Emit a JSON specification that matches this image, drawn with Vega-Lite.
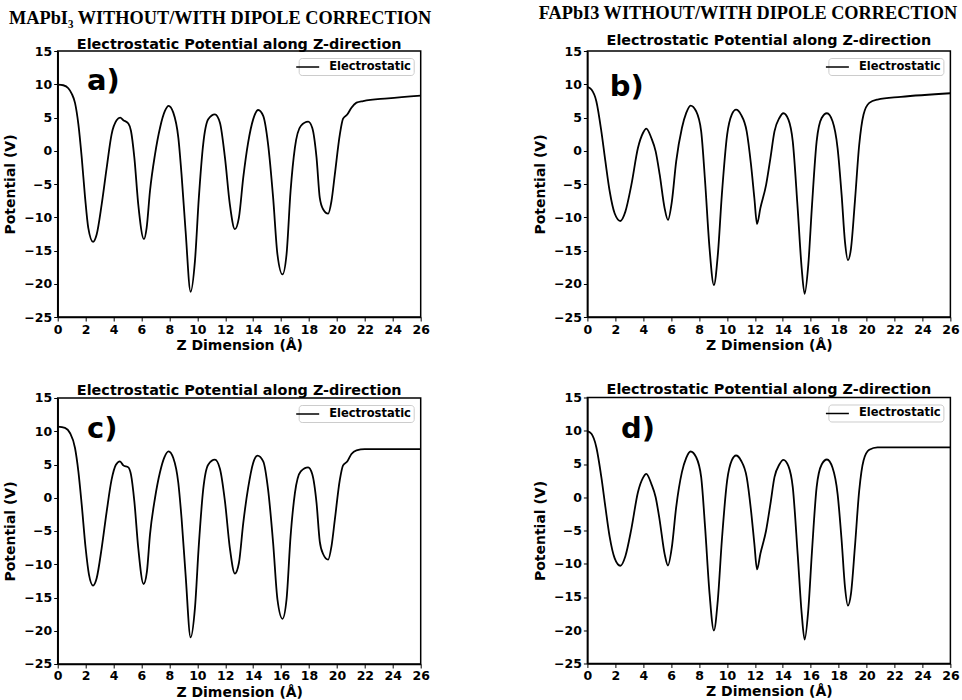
{
  "$schema": "https://vega.github.io/schema/vega-lite/v6.json",
  "background": "white",
  "padding": {"left": 2.7, "top": 3, "right": 2, "bottom": 1},
  "datasets": {
    "a": [
      {"z":0,"v":9.95},{"z":0.4,"v":9.85},{"z":0.76,"v":9.4},{"z":1.0,"v":8.6},{"z":1.24,"v":7.2},{"z":1.48,"v":4.0},{"z":1.72,"v":-1.0},{"z":1.96,"v":-7.0},{"z":2.19,"v":-11.6},{"z":2.53,"v":-13.7},{"z":2.79,"v":-12.6},{"z":3.15,"v":-8.06},{"z":3.51,"v":-2.54},{"z":3.86,"v":2.47},{"z":4.22,"v":4.57},{"z":4.48,"v":4.97},{"z":4.7,"v":4.6},{"z":5.06,"v":4.1},{"z":5.25,"v":2.97},{"z":5.49,"v":-1.04},{"z":5.77,"v":-8.06},{"z":6.18,"v":-13.3},{"z":6.37,"v":-11.6},{"z":6.61,"v":-6.05},{"z":6.97,"v":-0.54},{"z":7.33,"v":3.47},{"z":7.68,"v":5.98},{"z":7.94,"v":6.75},{"z":8.28,"v":5.73},{"z":8.64,"v":1.97},{"z":8.87,"v":-3.55},{"z":9.16,"v":-12.07},{"z":9.52,"v":-21.2},{"z":9.83,"v":-16.6},{"z":10.11,"v":-7.05},{"z":10.42,"v":0.96},{"z":10.78,"v":4.72},{"z":11.26,"v":5.48},{"z":11.62,"v":4.22},{"z":11.98,"v":-1.04},{"z":12.33,"v":-8.06},{"z":12.69,"v":-11.8},{"z":12.98,"v":-10.06},{"z":13.29,"v":-4.05},{"z":13.64,"v":1.22},{"z":14.0,"v":4.72},{"z":14.36,"v":6.13},{"z":14.72,"v":5.23},{"z":15.07,"v":0.96},{"z":15.43,"v":-7.05},{"z":15.74,"v":-15.6},{"z":16.1,"v":-18.6},{"z":16.39,"v":-15.6},{"z":16.68,"v":-6.05},{"z":16.99,"v":0.46},{"z":17.41,"v":3.72},{"z":17.94,"v":4.37},{"z":18.23,"v":3.47},{"z":18.54,"v":-1.04},{"z":18.77,"v":-7.05},{"z":19.01,"v":-8.8},{"z":19.37,"v":-9.46},{"z":19.61,"v":-7.56},{"z":19.85,"v":-3.55},{"z":20.21,"v":2.47},{"z":20.44,"v":4.82},{"z":20.75,"v":5.48},{"z":21.04,"v":6.48},{"z":21.4,"v":7.23},{"z":21.88,"v":7.48},{"z":23.66,"v":7.88},{"z":26,"v":8.3}
    ],
    "b": [
      {"z":0,"v":9.6},{"z":0.29,"v":9.2},{"z":0.64,"v":7.45},{"z":1.0,"v":2.92},{"z":1.29,"v":-1.6},{"z":1.6,"v":-6.13},{"z":1.95,"v":-9.4},{"z":2.36,"v":-10.56},{"z":2.72,"v":-9.15},{"z":3.15,"v":-5.13},{"z":3.62,"v":0.41},{"z":3.98,"v":2.67},{"z":4.22,"v":3.33},{"z":4.58,"v":1.92},{"z":4.89,"v":-0.09},{"z":5.18,"v":-3.6},{"z":5.53,"v":-8.63},{"z":5.77,"v":-10.4},{"z":6.05,"v":-7.64},{"z":6.36,"v":-1.6},{"z":6.77,"v":3.43},{"z":7.08,"v":5.69},{"z":7.39,"v":6.8},{"z":7.79,"v":5.94},{"z":8.15,"v":2.92},{"z":8.43,"v":-4.62},{"z":8.75,"v":-14.7},{"z":9.06,"v":-20.2},{"z":9.34,"v":-15.7},{"z":9.63,"v":-6.64},{"z":10.01,"v":2.42},{"z":10.34,"v":5.44},{"z":10.65,"v":6.19},{"z":11.0,"v":5.44},{"z":11.41,"v":2.92},{"z":11.72,"v":-2.1},{"z":11.96,"v":-7.14},{"z":12.15,"v":-11.0},{"z":12.39,"v":-8.63},{"z":12.8,"v":-5.13},{"z":13.11,"v":-1.1},{"z":13.4,"v":2.92},{"z":13.75,"v":4.93},{"z":14.04,"v":5.64},{"z":14.4,"v":4.68},{"z":14.71,"v":1.41},{"z":15.06,"v":-8.63},{"z":15.35,"v":-17.7},{"z":15.56,"v":-21.5},{"z":15.82,"v":-17.2},{"z":16.09,"v":-8.13},{"z":16.42,"v":1.41},{"z":16.78,"v":4.93},{"z":17.16,"v":5.64},{"z":17.56,"v":4.43},{"z":17.92,"v":0.41},{"z":18.21,"v":-6.64},{"z":18.45,"v":-13.7},{"z":18.66,"v":-16.45},{"z":18.88,"v":-14.7},{"z":19.16,"v":-7.64},{"z":19.47,"v":0.9},{"z":19.78,"v":5.44},{"z":20.19,"v":7.2},{"z":20.78,"v":7.7},{"z":22.45,"v":8.1},{"z":26,"v":8.65}
    ],
    "c": [
      {"z":0,"v":10.7},{"z":0.52,"v":10.5},{"z":0.88,"v":9.74},{"z":1.24,"v":7.48},{"z":1.48,"v":3.97},{"z":1.72,"v":-1.04},{"z":2.0,"v":-7.56},{"z":2.24,"v":-11.56},{"z":2.53,"v":-13.2},{"z":2.79,"v":-12.1},{"z":3.15,"v":-7.56},{"z":3.51,"v":-2.04},{"z":3.86,"v":2.72},{"z":4.17,"v":4.97},{"z":4.46,"v":5.48},{"z":4.7,"v":4.87},{"z":5.06,"v":4.57},{"z":5.25,"v":3.47},{"z":5.49,"v":-0.54},{"z":5.77,"v":-7.56},{"z":6.15,"v":-12.97},{"z":6.39,"v":-11.1},{"z":6.61,"v":-5.54},{"z":6.97,"v":-0.04},{"z":7.33,"v":3.87},{"z":7.64,"v":6.08},{"z":7.94,"v":6.98},{"z":8.28,"v":5.98},{"z":8.64,"v":2.22},{"z":8.87,"v":-3.05},{"z":9.16,"v":-11.57},{"z":9.52,"v":-21.0},{"z":9.83,"v":-16.6},{"z":10.11,"v":-7.05},{"z":10.42,"v":1.22},{"z":10.78,"v":4.97},{"z":11.26,"v":5.73},{"z":11.62,"v":4.37},{"z":11.98,"v":-0.54},{"z":12.33,"v":-7.56},{"z":12.69,"v":-11.4},{"z":12.98,"v":-9.81},{"z":13.29,"v":-3.8},{"z":13.64,"v":1.47},{"z":14.0,"v":5.23},{"z":14.31,"v":6.33},{"z":14.72,"v":5.48},{"z":15.07,"v":1.22},{"z":15.43,"v":-6.8},{"z":15.74,"v":-15.3},{"z":16.1,"v":-18.2},{"z":16.39,"v":-15.3},{"z":16.68,"v":-5.8},{"z":16.99,"v":0.71},{"z":17.41,"v":3.97},{"z":17.94,"v":4.57},{"z":18.23,"v":3.57},{"z":18.54,"v":-0.79},{"z":18.77,"v":-6.55},{"z":19.01,"v":-8.46},{"z":19.37,"v":-9.31},{"z":19.61,"v":-7.3},{"z":19.85,"v":-3.3},{"z":20.21,"v":2.72},{"z":20.44,"v":4.87},{"z":20.75,"v":5.48},{"z":21.04,"v":6.58},{"z":21.4,"v":7.13},{"z":21.99,"v":7.3},{"z":26,"v":7.3}
    ],
    "d": [
      {"z":0,"v":9.94},{"z":0.29,"v":9.54},{"z":0.64,"v":7.53},{"z":1.0,"v":3.02},{"z":1.29,"v":-1.49},{"z":1.6,"v":-6.0},{"z":1.95,"v":-9.16},{"z":2.36,"v":-10.3},{"z":2.72,"v":-8.86},{"z":3.15,"v":-4.75},{"z":3.62,"v":0.76},{"z":3.98,"v":2.92},{"z":4.22,"v":3.52},{"z":4.58,"v":2.02},{"z":4.89,"v":0.01},{"z":5.18,"v":-3.5},{"z":5.53,"v":-8.51},{"z":5.77,"v":-10.26},{"z":6.05,"v":-7.5},{"z":6.36,"v":-1.49},{"z":6.77,"v":3.77},{"z":7.08,"v":5.93},{"z":7.39,"v":6.88},{"z":7.79,"v":6.03},{"z":8.15,"v":3.02},{"z":8.43,"v":-4.5},{"z":8.75,"v":-14.5},{"z":9.06,"v":-20.04},{"z":9.34,"v":-15.5},{"z":9.63,"v":-6.5},{"z":10.01,"v":2.52},{"z":10.34,"v":5.53},{"z":10.65,"v":6.28},{"z":11.0,"v":5.53},{"z":11.41,"v":3.02},{"z":11.72,"v":-2.0},{"z":11.96,"v":-7.0},{"z":12.15,"v":-10.86},{"z":12.39,"v":-8.5},{"z":12.8,"v":-5.0},{"z":13.11,"v":-0.99},{"z":13.4,"v":3.02},{"z":13.75,"v":4.93},{"z":14.04,"v":5.63},{"z":14.4,"v":4.68},{"z":14.71,"v":1.52},{"z":15.06,"v":-8.51},{"z":15.35,"v":-17.5},{"z":15.56,"v":-21.4},{"z":15.82,"v":-17.0},{"z":16.09,"v":-8.0},{"z":16.42,"v":1.52},{"z":16.78,"v":4.93},{"z":17.16,"v":5.68},{"z":17.56,"v":4.43},{"z":17.92,"v":0.52},{"z":18.21,"v":-6.5},{"z":18.45,"v":-13.5},{"z":18.66,"v":-16.3},{"z":18.88,"v":-14.5},{"z":19.16,"v":-7.5},{"z":19.47,"v":1.02},{"z":19.78,"v":5.53},{"z":20.19,"v":7.13},{"z":20.78,"v":7.5},{"z":26,"v":7.5}
    ]
  },
  "hconcat": [
    {
      "title": {"text": "MAPbI₃  WITHOUT/WITH DIPOLE CORRECTION", "font": "Liberation Serif", "fontSize": 18.3, "fontWeight": "bold", "anchor": "start", "offset": 8, "dx": 6},
      "spacing": 27,
      "resolve": {"scale": {"color": "independent"}, "legend": {"color": "independent"}},
      "vconcat": [
        {
          "width": 363, "height": 266,
          "title": {"text": "Electrostatic Potential along Z-direction", "offset": -7},
          "layer": [
            {"data": {"name": "a"}, "mark": {"type": "line", "interpolate": "monotone", "strokeWidth": 1.8},
             "encoding": {
               "x": {"field": "z", "type": "quantitative", "scale": {"domain": [0, 26], "nice": false}, "axis": {"title": "Z Dimension (Å)", "values": [0,2,4,6,8,10,12,14,16,18,20,22,24,26], "tickCount": 14, "labelOverlap": false}},
               "y": {"field": "v", "type": "quantitative", "scale": {"domain": [-25, 15], "nice": false}, "axis": {"title": "Potential (V)", "values": [-25,-20,-15,-10,-5,0,5,10,15], "tickCount": 9, "labelOverlap": false}},
               "color": {"datum": "Electrostatic", "type": "nominal", "scale": {"range": ["black"]}, "legend": {"title": null}}
             }},
            {"data": {"values": [{"z": 2.1, "v": 9.1, "t": "a)"}]}, "mark": {"type": "text", "font": "DejaVu Sans", "fontSize": 29, "fontWeight": "bold", "align": "left", "baseline": "alphabetic"},
             "encoding": {"x": {"field": "z", "type": "quantitative"}, "y": {"field": "v", "type": "quantitative"}, "text": {"field": "t"}}}
          ]
        },
        {
          "width": 363, "height": 266,
          "title": {"text": "Electrostatic Potential along Z-direction", "offset": -6},
          "layer": [
            {"data": {"name": "c"}, "mark": {"type": "line", "interpolate": "monotone", "strokeWidth": 1.8},
             "encoding": {
               "x": {"field": "z", "type": "quantitative", "scale": {"domain": [0, 26], "nice": false}, "axis": {"title": "Z Dimension (Å)", "values": [0,2,4,6,8,10,12,14,16,18,20,22,24,26], "tickCount": 14, "labelOverlap": false}},
               "y": {"field": "v", "type": "quantitative", "scale": {"domain": [-25, 15], "nice": false}, "axis": {"title": "Potential (V)", "values": [-25,-20,-15,-10,-5,0,5,10,15], "tickCount": 9, "labelOverlap": false}},
               "color": {"datum": "Electrostatic", "type": "nominal", "scale": {"range": ["black"]}, "legend": {"title": null}}
             }},
            {"data": {"values": [{"z": 2.1, "v": 9.0, "t": "c)"}]}, "mark": {"type": "text", "font": "DejaVu Sans", "fontSize": 29, "fontWeight": "bold", "align": "left", "baseline": "alphabetic"},
             "encoding": {"x": {"field": "z", "type": "quantitative"}, "y": {"field": "v", "type": "quantitative"}, "text": {"field": "t"}}}
          ]
        }
      ]
    },
    {
      "title": {"text": "FAPbI3  WITHOUT/WITH DIPOLE CORRECTION", "font": "Liberation Serif", "fontSize": 18.3, "fontWeight": "bold", "anchor": "start", "offset": 9, "dx": 6},
      "spacing": 26.5,
      "resolve": {"scale": {"color": "independent"}, "legend": {"color": "independent"}},
      "vconcat": [
        {
          "width": 363, "height": 266,
          "title": {"text": "Electrostatic Potential along Z-direction", "offset": -3},
          "layer": [
            {"data": {"name": "b"}, "mark": {"type": "line", "interpolate": "monotone", "strokeWidth": 1.8},
             "encoding": {
               "x": {"field": "z", "type": "quantitative", "scale": {"domain": [0, 26], "nice": false}, "axis": {"title": "Z Dimension (Å)", "values": [0,2,4,6,8,10,12,14,16,18,20,22,24,26], "tickCount": 14, "labelOverlap": false}},
               "y": {"field": "v", "type": "quantitative", "scale": {"domain": [-25, 15], "nice": false}, "axis": {"title": "Potential (V)", "values": [-25,-20,-15,-10,-5,0,5,10,15], "tickCount": 9, "labelOverlap": false}},
               "color": {"datum": "Electrostatic", "type": "nominal", "scale": {"range": ["black"]}, "legend": {"title": null}}
             }},
            {"data": {"values": [{"z": 1.6, "v": 8.25, "t": "b)"}]}, "mark": {"type": "text", "font": "DejaVu Sans", "fontSize": 29, "fontWeight": "bold", "align": "left", "baseline": "alphabetic"},
             "encoding": {"x": {"field": "z", "type": "quantitative"}, "y": {"field": "v", "type": "quantitative"}, "text": {"field": "t"}}}
          ]
        },
        {
          "width": 363, "height": 266,
          "title": {"text": "Electrostatic Potential along Z-direction", "offset": -6},
          "layer": [
            {"data": {"name": "d"}, "mark": {"type": "line", "interpolate": "monotone", "strokeWidth": 1.8},
             "encoding": {
               "x": {"field": "z", "type": "quantitative", "scale": {"domain": [0, 26], "nice": false}, "axis": {"title": "Z Dimension (Å)", "values": [0,2,4,6,8,10,12,14,16,18,20,22,24,26], "tickCount": 14, "labelOverlap": false}},
               "y": {"field": "v", "type": "quantitative", "scale": {"domain": [-25, 15], "nice": false}, "axis": {"title": "Potential (V)", "values": [-25,-20,-15,-10,-5,0,5,10,15], "tickCount": 9, "labelOverlap": false}},
               "color": {"datum": "Electrostatic", "type": "nominal", "scale": {"range": ["black"]}, "legend": {"title": null}}
             }},
            {"data": {"values": [{"z": 2.4, "v": 8.94, "t": "d)"}]}, "mark": {"type": "text", "font": "DejaVu Sans", "fontSize": 29, "fontWeight": "bold", "align": "left", "baseline": "alphabetic"},
             "encoding": {"x": {"field": "z", "type": "quantitative"}, "y": {"field": "v", "type": "quantitative"}, "text": {"field": "t"}}}
          ]
        }
      ]
    }
  ],
  "spacing": 95.7,
  "resolve": {"scale": {"color": "independent"}, "legend": {"color": "independent"}},
  "config": {
    "font": "DejaVu Sans",
    "view": {"stroke": "black", "strokeWidth": 1.5},
    "axis": {"labelFont": "DejaVu Sans", "labelFontWeight": "bold", "labelFontSize": 12.5, "labelColor": "black", "titleFont": "DejaVu Sans", "titleFontWeight": "bold", "titleFontSize": 14, "titleColor": "black", "grid": false, "domainColor": "black", "domainWidth": 1.5, "tickColor": "black", "tickSize": 4, "tickWidth": 1, "labelPadding": 2, "labelFlush": false, "labelOverlap": false},
    "axisX": {"titlePadding": 3},
    "axisY": {"titlePadding": 6},
    "title": {"font": "DejaVu Sans", "fontSize": 14.4, "fontWeight": "bold", "color": "black", "offset": -5},
    "legend": {"orient": "top-right", "offset": 7, "padding": 2.5, "strokeColor": "#cccccc", "fillColor": "white", "cornerRadius": 3, "symbolType": "M-2,0H2", "symbolSize": 132, "symbolStrokeWidth": 1.5, "symbolFillColor": "transparent", "labelFont": "DejaVu Sans", "labelFontWeight": "bold", "labelFontSize": 11.5, "labelColor": "black", "labelOffset": 15}
  }
}
